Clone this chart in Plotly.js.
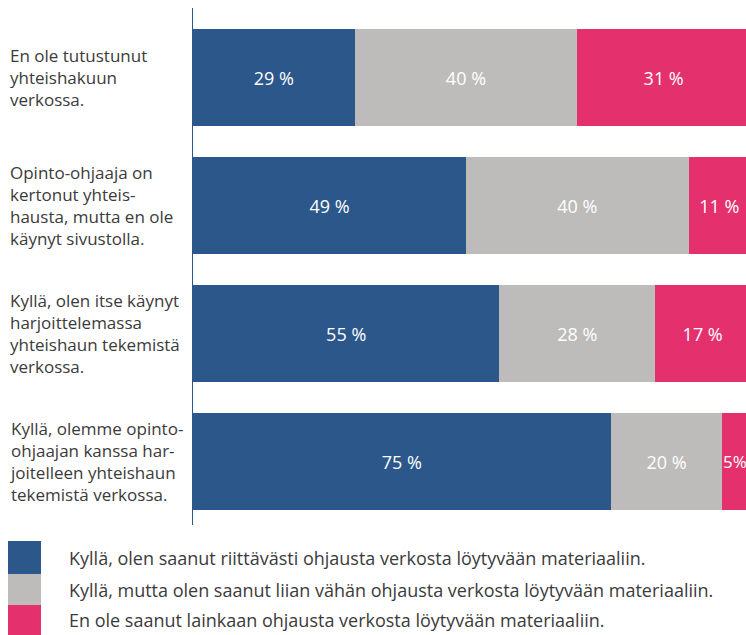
<!DOCTYPE html>
<html>
<head>
<meta charset="utf-8">
<script src="https://cdn.plot.ly/plotly-3.0.1.min.js"></script>
<style>html,body{margin:0;padding:0;background:#fff;}#chart{width:746px;height:635px;}</style>
</head>
<body>
<div id="chart"></div>
<script>
// ---- data ----
const categories = [
  "En ole tutustunut<br>yhteishakuun<br>verkossa.",
  "Opinto-ohjaaja on<br>kertonut yhteis-<br>hausta, mutta en ole<br>käynyt sivustolla.",
  "Kyllä, olen itse käynyt<br>harjoittelemassa<br>yhteishaun tekemistä<br>verkossa.",
  "Kyllä, olemme opinto-<br>ohjaajan kanssa har-<br>joitelleen yhteishaun<br>tekemistä verkossa."
];
const seriesNames = [
  "Kyllä, olen saanut riittävästi ohjausta verkosta löytyvään materiaaliin.",
  "Kyllä, mutta olen saanut liian vähän ohjausta verkosta löytyvään materiaaliin.",
  "En ole saanut lainkaan ohjausta verkosta löytyvään materiaaliin."
];
const enough = [29, 49, 55, 75];
const tooLittle = [40, 40, 28, 20];
const none = [31, 11, 17, 5];
const colors = ["#2C578B", "#BDBCBB", "#E5306E"];

// ---- layout helpers ----
const W = 746, H = 635;
const M = {l: 193, r: 0, t: 8, b: 110};
const pw = W - M.l - M.r, ph = H - M.t - M.b;
const px2x = px => (px - M.l) / pw;
const px2y = py => (H - M.b - py) / ph;
const FONT = "Open Sans, sans-serif";
const TXT = "#3b3b3b";

const seriesVals = [enough, tooLittle, none];
const fmt = v => (v < 10 ? v + "%" : v + " %");
const small = v => v < 10;

const traces = seriesVals.map((vals, i) => ({
  type: "bar",
  orientation: "h",
  name: seriesNames[i],
  y: categories,
  x: vals,
  marker: {color: colors[i], line: {width: 0}},
  text: vals.map(v => (small(v) ? "" : fmt(v))),
  textposition: "inside",
  insidetextanchor: "middle",
  textangle: 0,
  constraintext: "none",
  textfont: {family: FONT, size: 18, color: "#ffffff"},
  hoverinfo: "none",
  showlegend: false
}));

const annotations = categories.map(c => ({
  xref: "paper", yref: "y",
  x: px2x(8), y: c,
  xanchor: "left", yanchor: "middle",
  align: "left",
  text: c,
  showarrow: false,
  font: {family: FONT, size: 17, color: TXT}
}));

// labels for very narrow segments: placed at the start of the segment
seriesVals.forEach((vals, i) => {
  vals.forEach((v, j) => {
    if (!small(v)) return;
    let start = 0;
    for (let k = 0; k < i; k++) start += seriesVals[k][j];
    annotations.push({
      xref: "x", yref: "y", x: start, y: categories[j],
      xanchor: "left", yanchor: "middle", xshift: -1,
      text: fmt(v), showarrow: false,
      font: {family: FONT, size: 17, color: "#ffffff"}
    });
  });
});

const shapes = [];
const legTop = 541, legH = [33, 31, 30];
let yy = legTop;
seriesNames.forEach((n, i) => {
  shapes.push({
    type: "rect", xref: "paper", yref: "paper",
    x0: px2x(8), x1: px2x(41),
    y0: px2y(yy), y1: px2y(yy + legH[i]),
    fillcolor: colors[i], line: {width: 0}
  });
  annotations.push({
    xref: "paper", yref: "paper",
    x: px2x(67), y: px2y(yy + legH[i] / 2),
    xanchor: "left", yanchor: "middle",
    text: n, showarrow: false,
    font: {family: FONT, size: 18, color: TXT}
  });
  yy += legH[i];
});

const layout = {
  width: W, height: H,
  margin: M,
  barmode: "stack",
  bargap: 0.244,
  paper_bgcolor: "#ffffff",
  plot_bgcolor: "#ffffff",
  xaxis: {range: [0, 99.28], showgrid: false, zeroline: false, showticklabels: false, showline: false, ticks: ""},
  yaxis: {type: "category", range: [3.496, -0.543], showgrid: false, zeroline: false,
          showticklabels: false, ticks: "", showline: true, linecolor: "#2C578B", linewidth: 1.5},
  annotations: annotations,
  shapes: shapes,
  font: {family: FONT}
};

Plotly.newPlot("chart", traces, layout, {displayModeBar: false, staticPlot: true});
</script>
</body>
</html>
